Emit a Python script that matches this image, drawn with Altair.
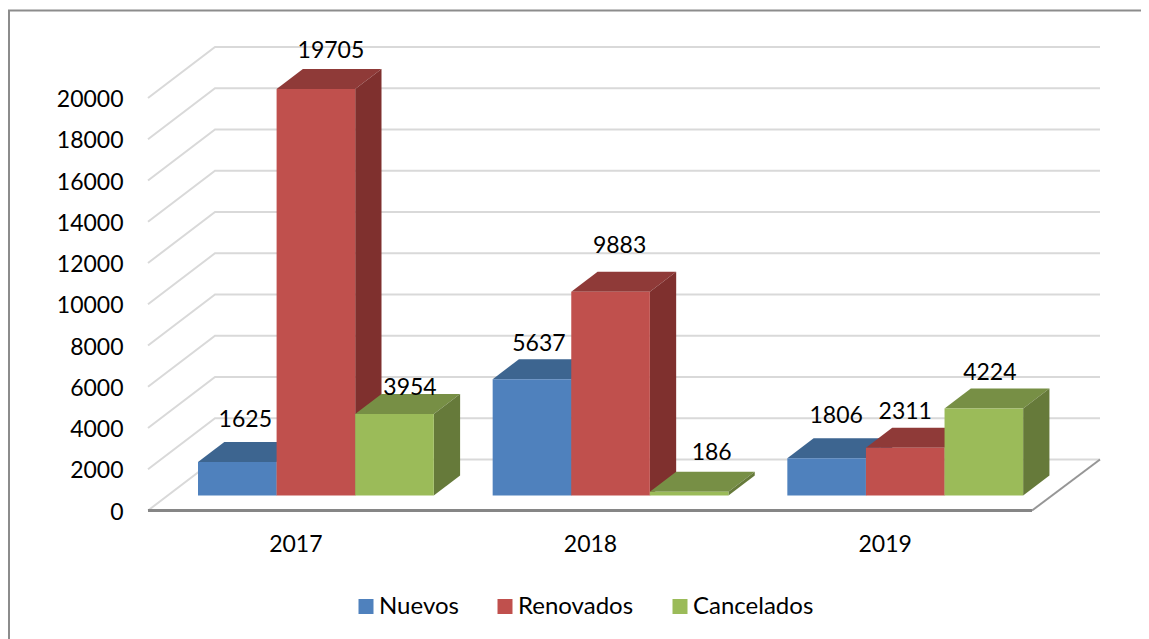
import json
import altair as alt
import pandas as pd

# ---- chart values ----
years = ["2017", "2018", "2019"]
series_names = ["Nuevos", "Renovados", "Cancelados"]
nuevos = [1625, 5637, 1806]
renovados = [19705, 9883, 2311]
cancelados = [3954, 186, 4224]
tick_values = [0, 2000, 4000, 6000, 8000, 10000, 12000, 14000, 16000, 18000, 20000]

# ---- colours ----
front_colors = ["#4F81BD", "#C0504D", "#9BBB59"]
top_colors = ["#3D6590", "#8F3A38", "#778F45"]
side_colors = ["#35587F", "#7F302E", "#667A3A"]
GRID = "#D9D9D9"
FLOOR = "#868686"
BORDER = "#8C8C8C"
FONT = "Lato"
FS = 23

# ---- projection layout of the fake 3-D box (x in pixels from the front-left corner, y in data units) ----
PLOT_W, PLOT_H = 952, 463.5
UNITS_PER_PX = 20000 / 412.5
Y_TOP = PLOT_H * UNITS_PER_PX
WALL_DX = 67
WALL_DY = 51 * UNITS_PER_PX
FRONT_W = 884
GROUP_W = FRONT_W / 3
BAR_W = 78.6
BAR_START = 50
BAR_DX = 26.3
BAR_DY = 20 * UNITS_PER_PX
BAR_BASE = 15 * UNITS_PER_PX

# nudges of the hand-placed data labels (px right of bar centre, px above bar top)
label_dx = {"Nuevos": [8, 7, 9.5], "Renovados": [15, 9, 0], "Cancelados": [15.5, 22.5, 6]}
label_dy = {"Nuevos": [43, 36, 43], "Renovados": [39, 47, 37], "Cancelados": [27, 40, 36]}

x_scale = alt.Scale(domain=[0, PLOT_W], nice=False, zero=False)
y_scale = alt.Scale(domain=[0, Y_TOP], nice=False, zero=False)

centers = [(i + 0.5) * GROUP_W for i in range(len(years))]
x_axis = alt.Axis(
    values=centers, title=None, domain=False, ticks=False, grid=False, labelPadding=23,
    labelFont=FONT, labelFontSize=FS, labelColor="#000000",
    labelExpr=f"{json.dumps(years)}[round((datum.value-{centers[0]})/{GROUP_W})]",
)
y_axis = alt.Axis(
    values=tick_values, title=None, domain=False, ticks=False, grid=False, labelPadding=25,
    labelFont=FONT, labelFontSize=FS, labelColor="#000000", format="d", labelOffset=1.5,
)
X = alt.X("x:Q", scale=x_scale, axis=x_axis)
Y = alt.Y("y:Q", scale=y_scale, axis=y_axis)

# walls: every tick runs along the left wall then along the back wall
grid_rows = []
for v in tick_values:
    grid_rows += [
        {"t": v, "x": 0, "y": v},
        {"t": v, "x": WALL_DX, "y": v + WALL_DY},
        {"t": v, "x": PLOT_W, "y": v + WALL_DY},
    ]
grid_layer = alt.Chart(pd.DataFrame(grid_rows)).mark_line(color=GRID, strokeWidth=2, clip=False).encode(
    x=X, y=Y, detail="t:N",
)

floor_front = alt.Chart(pd.DataFrame({"x": [0, FRONT_W], "y": [0, 0]})).mark_line(
    color=FLOOR, strokeWidth=3, clip=False).encode(x=X, y=Y)
floor_side = alt.Chart(pd.DataFrame({"x": [FRONT_W, PLOT_W], "y": [0, WALL_DY]})).mark_line(
    color="#969696", strokeWidth=2, clip=False).encode(x=X, y=Y)

layers = [grid_layer, floor_side, floor_front]

values_by_series = [nuevos, renovados, cancelados]
color_enc = alt.Color(
    "series:N",
    scale=alt.Scale(domain=series_names, range=front_colors),
    legend=alt.Legend(
        orient="none", legendX=206, legendY=547.5, direction="horizontal", title=None,
        symbolType="square", symbolSize=225, symbolStrokeWidth=0, symbolOpacity=1,
        labelFont=FONT, labelFontSize=24, labelColor="#000000", columnPadding=34, labelOffset=1,
    ),
)

label_rows = []
for s, name in enumerate(series_names):
    top_rows, side_rows, front_rows = [], [], []
    for g, value in enumerate(values_by_series[s]):
        x0 = BAR_START + g * GROUP_W + s * BAR_W
        x1 = x0 + BAR_W
        top = value + BAR_BASE
        k = f"{g}"
        top_rows += [
            {"k": k, "x": x0, "y": top, "y2": top},
            {"k": k, "x": x0 + BAR_DX, "y": top + BAR_DY, "y2": top},
            {"k": k, "x": x1, "y": top + BAR_DY, "y2": top},
            {"k": k, "x": x1 + BAR_DX, "y": top + BAR_DY, "y2": top + BAR_DY},
        ]
        side_rows += [
            {"k": k, "x": x1, "y": top, "y2": BAR_BASE},
            {"k": k, "x": x1 + BAR_DX, "y": top + BAR_DY, "y2": BAR_BASE + BAR_DY},
        ]
        front_rows.append({"series": name, "x": x0, "x2": x1, "y": top, "y2": BAR_BASE})
        label_rows.append({
            "x": x0 + BAR_W / 2 + label_dx[name][g],
            "y": top + label_dy[name][g] * UNITS_PER_PX,
            "label": str(value),
        })
    layers.append(alt.Chart(pd.DataFrame(top_rows)).mark_area(color=top_colors[s], clip=False).encode(
        x=X, y=Y, y2="y2:Q", detail="k:N"))
    layers.append(alt.Chart(pd.DataFrame(side_rows)).mark_area(color=side_colors[s], clip=False).encode(
        x=X, y=Y, y2="y2:Q", detail="k:N"))
    layers.append(alt.Chart(pd.DataFrame(front_rows)).mark_rect(clip=False).encode(
        x=X, x2="x2:Q", y=Y, y2="y2:Q", color=color_enc))

labels = alt.Chart(pd.DataFrame(label_rows)).mark_text(
    font=FONT, fontSize=FS, color="#000000", align="center", baseline="middle", clip=False, dy=1
).encode(x=X, y=Y, text="label:N")
layers.append(labels)

# chart-area frame: only its top and left edges fall inside the picture
frame_anchor = pd.DataFrame({"a": [0]})
frame_top = alt.Chart(frame_anchor).mark_rule(color=BORDER, strokeWidth=2, clip=False).encode(
    x=alt.value(-140), x2=alt.value(PLOT_W + 41), y=alt.value(-36.5))
frame_left = alt.Chart(frame_anchor).mark_rule(color=BORDER, strokeWidth=2, clip=False).encode(
    x=alt.value(-139), y=alt.value(-37), y2=alt.value(PLOT_H + 128.5))
layers += [frame_top, frame_left]

chart = alt.layer(*layers).properties(
    width=PLOT_W,
    height=PLOT_H,
    autosize=alt.AutoSizeParams(type="none"),
    padding={"left": 140, "top": 39, "right": 41, "bottom": 128.5},
    background="#FFFFFF",
).configure_view(stroke=None)

chart.save("out.html", embed_options={"renderer": "svg", "actions": False})
